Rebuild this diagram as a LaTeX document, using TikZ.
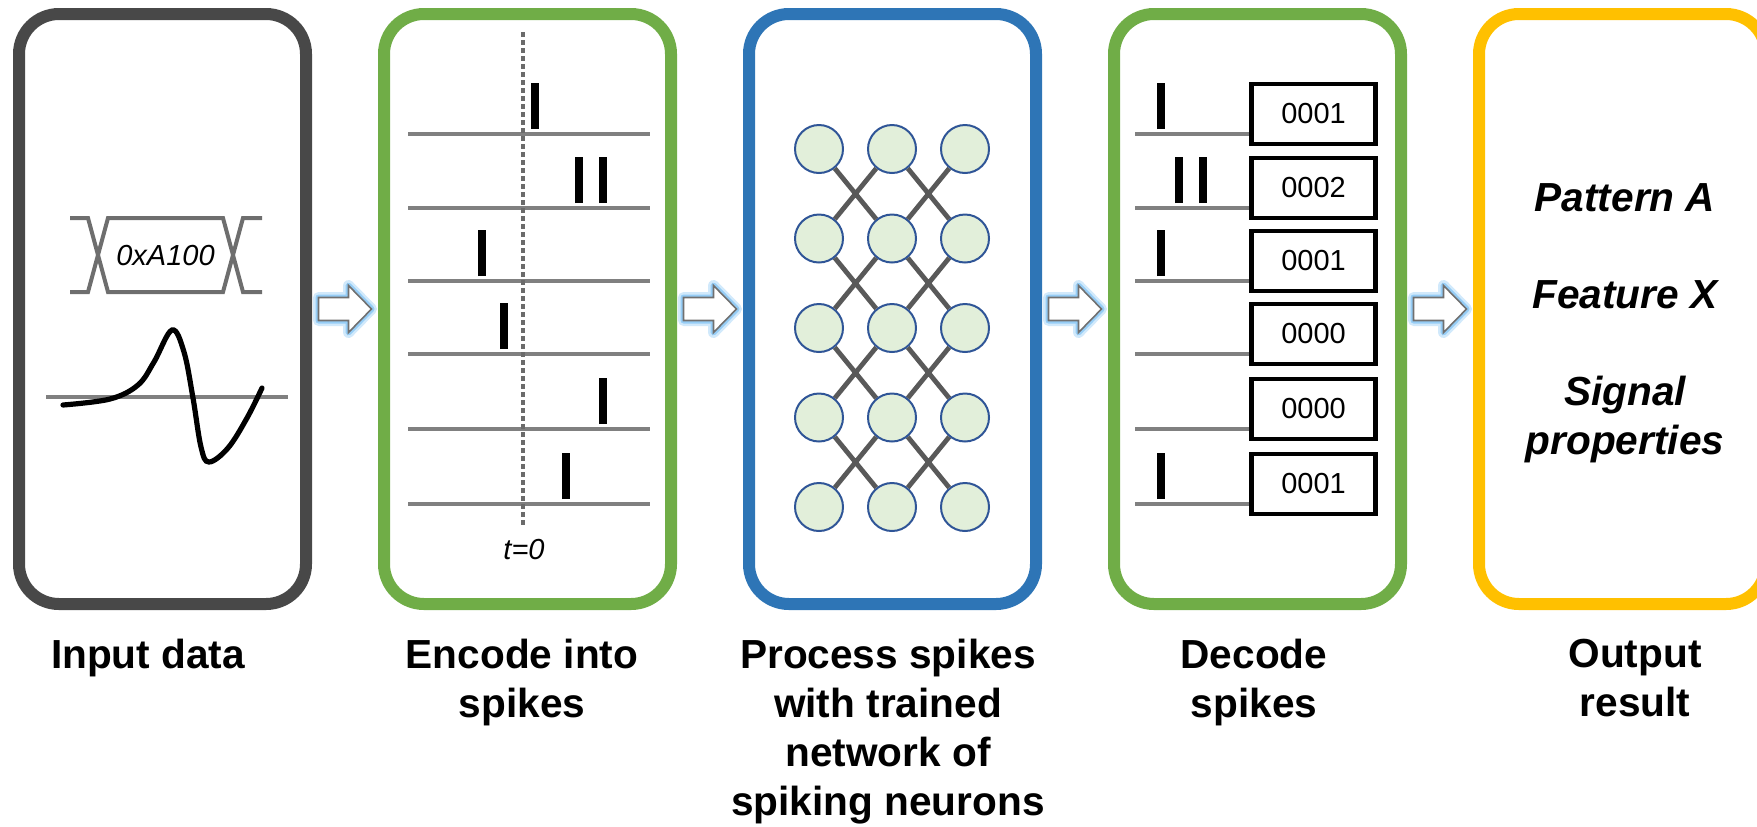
\documentclass[tikz,border=0pt]{standalone}
\usepackage{fontspec}
\setmainfont{Liberation Sans}
\usetikzlibrary{positioning,calc}
\definecolor{InkGray}{HTML}{484848}
\definecolor{LeafGreen}{HTML}{70AD47}
\definecolor{SteelBlue}{HTML}{2E75B6}
\definecolor{Amber}{HTML}{FFC000}
\definecolor{WireGray}{HTML}{808080}
\definecolor{BusGray}{HTML}{6E6E6E}
\definecolor{DotGray}{HTML}{6B6B6B}
\definecolor{EdgeGray}{HTML}{595959}
\definecolor{CellFill}{HTML}{E2EFDA}
\definecolor{CellRim}{HTML}{2F5597}
\definecolor{GlowBlue}{HTML}{8CC8F5}
\definecolor{ArrowRim}{HTML}{707070}
\newcommand{\bigfont}{\fontsize{20.3}{24.5}\selectfont}
\newcommand{\smallfont}{\fontsize{14.5}{17}\selectfont}
\tikzset{
  stagebox/.style={rounded corners=20pt, line width=6pt, minimum width=143.5pt, minimum height=295pt, inner sep=0pt},
  caption/.style={font=\bigfont\bfseries, align=center, anchor=north, inner sep=0pt},
  result/.style={font=\bigfont\bfseries\itshape, align=center, anchor=base},
  rasterline/.style={draw=WireGray, line width=2pt},
  spikebar/.style={draw=black, line width=4pt},
  busline/.style={draw=BusGray, line width=2pt},
  cell/.style={circle, draw=CellRim, fill=CellFill, line width=1pt, minimum size=24pt, inner sep=0pt},
  synapse/.style={draw=EdgeGray, line width=2.4pt},
  countbox/.style={draw=black, line width=2.2pt, minimum width=62pt, minimum height=30pt, inner sep=0pt, font=\smallfont},
  flowarrow/.style={draw=ArrowRim, fill=white, line width=0.8pt,
    preaction={draw=GlowBlue, line width=5.5pt, opacity=0.4, line join=round},
    preaction={draw=GlowBlue, line width=3pt, opacity=0.85, line join=round}}
}
% hollow block arrow halfway between two stages
\newcommand{\stagearrow}[2]{%
  \draw[flowarrow] ($(#1.east)!.5!(#2.west)$) ++(-26.5,-11.5) -- ++(30,0) -- ++(0,-12)
    -- ++(23,23.5) -- ++(-23,23.5) -- ++(0,-12) -- ++(-30,0) -- cycle;}
% one spike standing on a raster line
\newcommand{\spike}[2]{\draw[spikebar] (#1,#2-5) -- (#1,#2-51);}

\begin{document}
\begin{tikzpicture}[x=0.5pt, y=-0.5pt]
\useasboundingbox (0,0) rectangle (1757,826);

% stages
\node[stagebox, draw=InkGray] (in) at (162.5,309) {};
\node[stagebox, draw=LeafGreen, right=33pt of in] (enc) {};
\node[stagebox, draw=SteelBlue, right=33pt of enc] (snn) {};
\node[stagebox, draw=LeafGreen, right=33pt of snn] (dec) {};
\node[stagebox, draw=Amber, right=33pt of dec] (out) {};

\stagearrow{in}{enc}
\stagearrow{enc}{snn}
\stagearrow{snn}{dec}
\stagearrow{dec}{out}

\node[caption] (incap) at ([shift={(-14.5,29)}]in.south) {Input data};
\node[caption] (enccap) at ([shift={(-5.5,29)}]enc.south) {Encode into\\spikes};
\node[caption] (snncap) at ([shift={(-4.5,29)}]snn.south) {Process spikes\\with trained\\network of\\spiking neurons};
\node[caption] (deccap) at ([shift={(-3.5,29)}]dec.south) {Decode\\spikes};
\node[caption] (outcap) at ([shift={(12.5,29)}]out.south) {Output\\result};

% input: bus word and analog trace
\draw[busline] (70,218) -- (88,218) -- (108,292) -- (223,292) -- (243,218) -- (262,218)
               (70,292) -- (88,292) -- (108,218) -- (223,218) -- (243,292) -- (262,292);
\node[font=\smallfont\itshape] (word) at (165.5,256) {0xA100};
\draw[rasterline] (46,397) -- (288,397);
\draw[line width=2.6pt, line cap=round] plot[smooth, tension=0.6] coordinates {
  (63,405) (110,399) (138,385) (154,362) (172,330) (184,352) (193,398)
  (201,447) (209,462) (228,448) (247,418) (262,388)};

% encoder raster
\foreach \y in {134,208,281,354,429,504}
  \draw[rasterline] (408,\y) -- (650,\y);
\spike{535}{134}
\spike{579}{208}
\spike{603}{208}
\spike{482}{281}
\spike{504}{354}
\spike{603}{429}
\spike{566}{504}
\draw[DotGray, line width=2.2pt, dash pattern=on 2.5pt off 1.5pt] (523,32) -- (523,528);
\node[font=\smallfont\itshape] (tzero) at (524,550) {t=0};

% spiking network
\foreach \c/\x in {1/819,2/892,3/965}
  \foreach \r/\y in {1/149,2/238.5,3/328,4/417.5,5/507}
    \node[cell] (n\r\c) at (\x,\y) {};
\foreach \r/\s in {1/2,2/3,3/4,4/5}
  \draw[synapse] (n\r1) -- (n\s2) (n\r2) -- (n\s1) (n\r2) -- (n\s3) (n\r3) -- (n\s2);

% decoder: spike counts
\foreach \i/\y/\v in {1/134/0001,2/208/0002,3/281/0001,4/354/0000,5/429/0000,6/504/0001} {
  \node[countbox] (c\i) at (1313.5,\y-20) {\v};
  \coordinate (w\i) at (1135,\y);
  \draw[rasterline] (w\i) -- (w\i -| c\i.west);
}
\spike{1161}{134}
\spike{1179}{208}
\spike{1203}{208}
\spike{1161}{281}
\spike{1161}{504}

% result
\node[result] (pa) at (1625,211) {Pattern A};
\node[result] (fx) at (1625,308) {Feature X};
\node[result, anchor=north, inner sep=0pt] (sp) at (1625,376) {Signal\\properties};
\end{tikzpicture}
\end{document}
